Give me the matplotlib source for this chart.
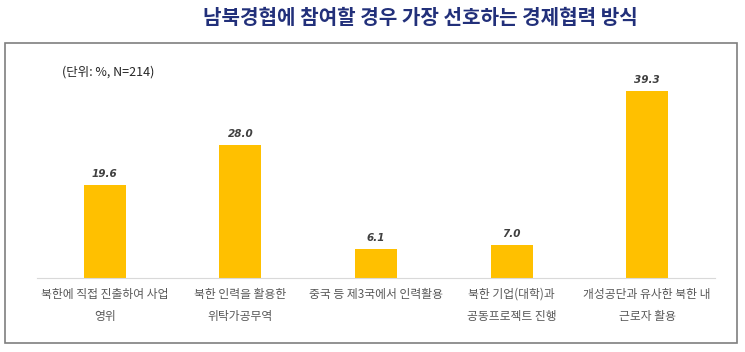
import matplotlib.pyplot as plt
from matplotlib.patches import Rectangle

plt.rcParams["font.family"] = ["Noto Sans CJK KR", "DejaVu Sans"]

categories = [
    "북한에 직접 진출하여 사업\n영위",
    "북한 인력을 활용한\n위탁가공무역",
    "중국 등 제3국에서 인력활용",
    "북한 기업(대학)과\n공동프로젝트 진행",
    "개성공단과 유사한 북한 내\n근로자 활용",
]
values = [19.6, 28.0, 6.1, 7.0, 39.3]
title = "남북경협에 참여할 경우 가장 선호하는 경제협력 방식"
unit_note = "(단위: %, N=214)"

BAR = "#FFC000"
GREY = "#595959"

fig = plt.figure(figsize=(7.45, 3.52), dpi=100)

# outer frame
fig.patches.append(Rectangle((5 / 745, 1 - 343 / 352), 732 / 745, 300 / 352,
                             transform=fig.transFigure, fill=False,
                             edgecolor="#7F7F7F", lw=1.2))

fig.text(420 / 745, 1 - 18 / 352, title, ha="center", va="center",
         fontsize=14.5, fontweight="bold", color="#22307A")

ax = fig.add_axes([37 / 745, 74 / 352, 678 / 745, 190 / 352])
x = range(len(categories))
ax.bar(x, values, width=0.31, color=BAR)
for xi, v in zip(x, values):
    ax.text(xi, v + 1.3, f"{v:.1f}", ha="center", va="bottom", fontsize=7.5,
            fontweight="bold", fontstyle="italic", color="#404040",
            family="DejaVu Sans")

ax.set_xlim(-0.5, 4.5)
ax.set_ylim(0, 40)
ax.set_yticks([])
ax.set_xticks(list(x))
ax.set_xticklabels(categories, fontsize=8.5, color=GREY, linespacing=1.95)
ax.tick_params(axis="x", length=0, pad=7)
for s in ["top", "right", "left"]:
    ax.spines[s].set_visible(False)
ax.spines["bottom"].set_color("#D9D9D9")

fig.text(62 / 745, 1 - 72 / 352, unit_note, ha="left", va="center",
         fontsize=9, color="#262626")

plt.savefig("out.png", dpi=100)
